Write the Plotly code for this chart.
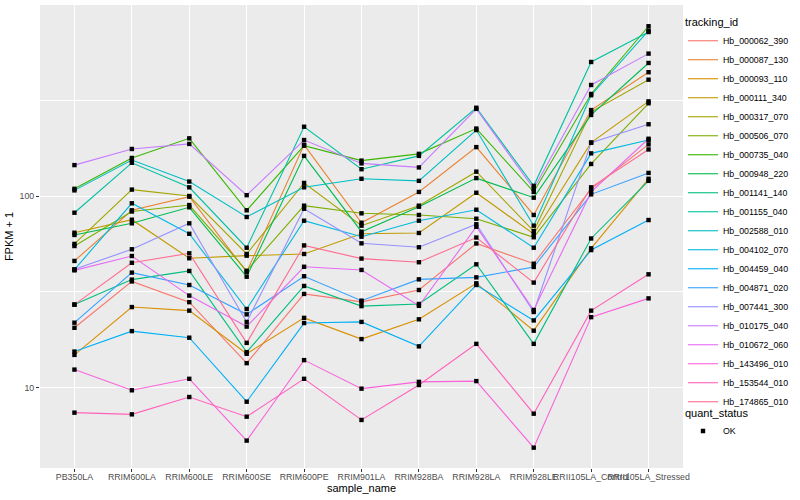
import plotly.graph_objects as go

sample_name = ["PB350LA", "RRIM600LA", "RRIM600LE", "RRIM600SE", "RRIM600PE",
               "RRIM901LA", "RRIM928BA", "RRIM928LA", "RRIM928LE",
               "RRII105LA_Control", "RRII105LA_Stressed"]

tracking_id = ["Hb_000062_390", "Hb_000087_130", "Hb_000093_110", "Hb_000111_340",
               "Hb_000317_070", "Hb_000506_070", "Hb_000735_040", "Hb_000948_220",
               "Hb_001141_140", "Hb_001155_040", "Hb_002588_010", "Hb_004102_070",
               "Hb_004459_040", "Hb_004871_020", "Hb_007441_300", "Hb_010175_040",
               "Hb_010672_060", "Hb_143496_010", "Hb_153544_010", "Hb_174865_010"]

line_colors = ["#F8766D", "#EA8331", "#D89000", "#C09B00", "#A3A500", "#7CAE00",
               "#39B600", "#00BB4E", "#00BF7D", "#00C1A3", "#00BFC4", "#00BAE0",
               "#00B0F6", "#35A2FF", "#9590FF", "#C77CFF", "#E76BF3", "#FA62DB",
               "#FF62BC", "#FF6C91"]

# FPKM + 1 per sample (same order as sample_name)
Hb_000062_390 = [20.5, 35.8, 27.9, 13.4, 30.8, 28.0, 32.3, 56.5, 44.3, 109, 186]
Hb_000087_130 = [45.8, 84.2, 99.2, 40.1, 185, 72.5, 105, 180, 79.6, 281, 443]
Hb_000093_110 = [14.8, 26.3, 25.2, 15.0, 23.1, 17.9, 22.7, 35.0, 19.8, 53.3, 123]
Hb_000111_340 = [64.3, 75.2, 47.3, 48.8, 49.8, 63.5, 64.1, 104, 63.3, 190, 312]
Hb_000317_070 = [56.2, 108, 100, 49.8, 117, 70.0, 89.0, 134, 65.6, 275, 405]
Hb_000506_070 = [54.8, 83.0, 89.7, 40.7, 89.0, 81.2, 79.6, 76.1, 60.9, 147, 305]
Hb_000735_040 = [109, 158, 200, 84.2, 183, 153, 166, 225, 105, 341, 770]
Hb_000948_220 = [62.6, 72.0, 87.3, 37.9, 162, 65.1, 87.9, 124, 98.0, 265, 495]
Hb_001141_140 = [27.1, 36.6, 40.6, 15.3, 33.9, 26.6, 27.3, 44.0, 16.9, 60.0, 120]
Hb_001155_040 = [81.8, 149, 111, 53.7, 230, 138, 162, 289, 113, 501, 718]
Hb_002588_010 = [107, 154, 119, 77.7, 111, 123, 120, 221, 70.0, 336, 730]
Hb_004102_070 = [41.3, 91.6, 63.5, 25.7, 74.3, 61.3, 74.3, 84.8, 53.7, 167, 196]
Hb_004459_040 = [15.4, 19.7, 18.2, 8.43, 21.7, 22.0, 16.4, 34.3, 22.4, 52.2, 74.9]
Hb_004871_020 = [21.8, 39.8, 34.3, 24.1, 38.1, 28.4, 36.7, 37.6, 42.6, 102, 132]
Hb_007441_300 = [41.4, 52.7, 72.0, 22.0, 85.8, 56.6, 54.0, 71.2, 24.8, 190, 237]
Hb_010175_040 = [145, 176, 187, 101, 196, 148, 141, 285, 109, 380, 554]
Hb_010672_060 = [40.9, 48.6, 30.2, 20.8, 42.7, 41.1, 26.7, 69.1, 25.4, 105, 199]
Hb_143496_010 = [12.4, 9.67, 11.1, 5.28, 13.9, 9.86, 10.7, 10.8, 4.85, 23.3, 29.2]
Hb_153544_010 = [7.39, 7.24, 8.92, 7.04, 11.1, 6.77, 10.3, 16.9, 7.30, 25.2, 39.0]
Hb_174865_010 = [27.1, 44.8, 50.2, 17.1, 55.2, 47.1, 45.1, 60.7, 35.3, 111, 175]

series = [Hb_000062_390, Hb_000087_130, Hb_000093_110, Hb_000111_340, Hb_000317_070,
          Hb_000506_070, Hb_000735_040, Hb_000948_220, Hb_001141_140, Hb_001155_040,
          Hb_002588_010, Hb_004102_070, Hb_004459_040, Hb_004871_020, Hb_007441_300,
          Hb_010175_040, Hb_010672_060, Hb_143496_010, Hb_153544_010, Hb_174865_010]

y_ticks = [10, 100]
y_ticktext = ["10", "100"]
y_minor = [10 ** 1.5, 10 ** 2.5]

FONT = "Liberation Sans, Arial, sans-serif"

fig = go.Figure()
for name, vals, col in zip(tracking_id, series, line_colors):
    fig.add_trace(go.Scatter(
        x=sample_name, y=vals, mode="lines", name=name,
        line=dict(color=col, width=1.1), legend="legend", hoverinfo="skip"))

all_x = [s for vals in series for s in sample_name]
all_y = [v for vals in series for v in vals]
fig.add_trace(go.Scatter(
    x=all_x, y=all_y, mode="markers", name="OK", legend="legend2",
    marker=dict(symbol="square", size=4.4, color="black")))

fig.update_layout(
    width=800, height=500, autosize=False,
    margin=dict(l=40, r=117, t=5, b=32),
    paper_bgcolor="white", plot_bgcolor="#EBEBEB",
    font=dict(family=FONT, size=11, color="black"),
    xaxis=dict(
        type="category", categoryorder="array", categoryarray=sample_name,
        range=[-0.6, len(sample_name) - 0.4],
        showgrid=True, gridcolor="white", gridwidth=1.1, zeroline=False,
        ticks="outside", ticklen=3, tickwidth=1, tickcolor="#333333",
        tickangle=0, tickfont=dict(size=8.8, color="#4D4D4D", family=FONT),
        ticklabelstandoff=-3,
        title=dict(text="sample_name", font=dict(size=11), standoff=1),
        showline=False, automargin=True),
    yaxis=dict(
        type="log", range=[0.5796, 2.9974],
        tickmode="array", tickvals=y_ticks, ticktext=y_ticktext,
        showgrid=True, gridcolor="white", gridwidth=1.1, zeroline=False,
        ticks="outside", ticklen=3, tickwidth=1, tickcolor="#333333",
        tickfont=dict(size=8.8, color="#4D4D4D", family=FONT),
        minor=dict(tickmode="array", tickvals=y_minor, showgrid=True,
                   gridcolor="white", gridwidth=0.55, ticks=""),
        title=dict(text="FPKM + 1", font=dict(size=11), standoff=3),
        showline=False, automargin=True),
    legend=dict(
        x=1.0, y=0.985, xanchor="left", yanchor="top",
        bgcolor="rgba(0,0,0,0)", font=dict(size=8.8, family=FONT),
        title=dict(text="tracking_id", font=dict(size=11)),
        tracegroupgap=0, itemwidth=30),
    legend2=dict(
        x=1.0, y=0.142, xanchor="left", yanchor="top",
        bgcolor="rgba(0,0,0,0)", font=dict(size=8.8, family=FONT),
        title=dict(text="quant_status", font=dict(size=11)),
        itemwidth=30),
)

fig.write_html("out.html", config={"displayModeBar": False},
               post_script="document.body.style.margin='0px';")
